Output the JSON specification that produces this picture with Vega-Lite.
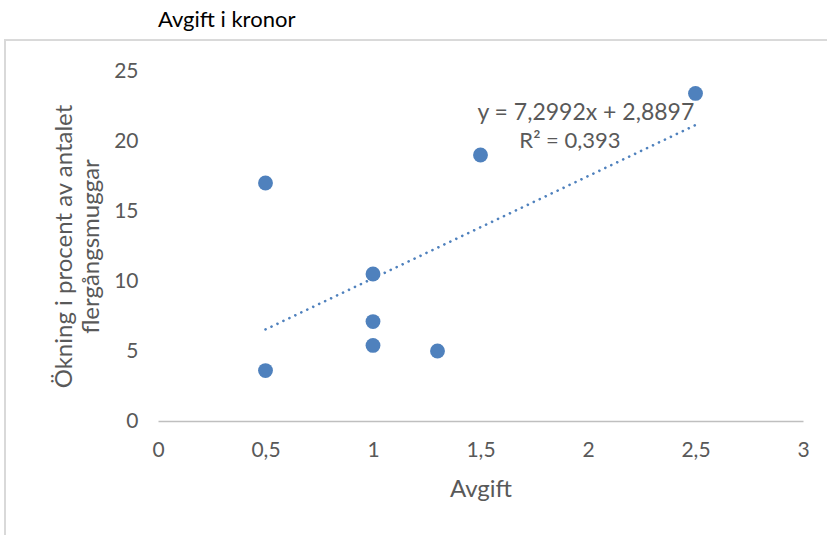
{
  "$schema": "https://vega.github.io/schema/vega-lite/v6.json",
  "width": 645,
  "height": 350,
  "autosize": "none",
  "padding": {"left": 158, "top": 71, "right": 24, "bottom": 114},
  "background": "white",
  "config": {
    "font": "Lato",
    "view": {"stroke": null},
    "axis": {"labelColor": "#595959", "titleColor": "#595959", "labelFont": "Lato", "titleFont": "Lato", "titleFontWeight": "normal", "gridColor": "#d9d9d9", "gridWidth": 1.3, "domainColor": "#bfbfbf", "domainWidth": 1.3, "tickSize": 0}
  },
  "title": {"text": "Avgift i kronor", "anchor": "start", "frame": "group", "offset": 7, "fontSize": 22, "fontWeight": "normal", "color": "#000000", "font": "Lato"},
  "data": {"values": [
    {"Avgift": 0.5, "Okning": 17.0},
    {"Avgift": 0.5, "Okning": 3.6},
    {"Avgift": 1.0, "Okning": 10.5},
    {"Avgift": 1.0, "Okning": 7.1},
    {"Avgift": 1.0, "Okning": 5.4},
    {"Avgift": 1.3, "Okning": 5.0},
    {"Avgift": 1.5, "Okning": 19.0},
    {"Avgift": 2.5, "Okning": 23.4}
  ]},
  "layer": [
    {
      "mark": {"type": "rect", "fill": null, "stroke": "#d9d9d9", "strokeWidth": 1.3, "clip": false},
      "encoding": {
        "x": {"datum": -0.712, "type": "quantitative", "scale": {"domain": [0, 3], "nice": false}},
        "x2": {"datum": 3.3},
        "y": {"datum": 27.21, "type": "quantitative", "scale": {"domain": [0, 25], "nice": false}},
        "y2": {"datum": -10}
      }
    },
    {
      "mark": {"type": "point", "filled": true, "size": 220, "color": "#4f81bd", "opacity": 1},
      "encoding": {
        "x": {"field": "Avgift", "type": "quantitative", "scale": {"domain": [0, 3], "nice": false},
          "axis": {"title": "Avgift", "values": [0, 0.5, 1, 1.5, 2, 2.5, 3], "labelExpr": "replace(format(datum.value, '~g'), '.', ',')", "labelFontSize": 21, "labelPadding": 18, "titleFontSize": 24, "titlePadding": 17, "labelFlush": false}},
        "y": {"field": "Okning", "type": "quantitative", "scale": {"domain": [0, 25], "nice": false},
          "axis": {"title": ["Ökning i procent av antalet", "flergångsmuggar"], "values": [0, 5, 10, 15, 20, 25], "labelFontSize": 21, "labelPadding": 20, "titleFontSize": 24, "titlePadding": 10, "domain": false, "titleLineHeight": 27}}
      }
    },
    {
      "transform": [{"regression": "Okning", "on": "Avgift", "extent": [0.5, 2.5]}],
      "mark": {"type": "line", "color": "#4f81bd", "strokeWidth": 2.6, "strokeDash": [0.1, 6.5], "strokeCap": "round"},
      "encoding": {
        "x": {"field": "Avgift", "type": "quantitative"},
        "y": {"field": "Okning", "type": "quantitative"}
      }
    },
    {
      "data": {"values": [{"label": "y = 7,2992x + 2,8897"}]},
      "mark": {"type": "text", "fontSize": 23, "color": "#595959", "align": "center", "baseline": "middle"},
      "encoding": {
        "x": {"datum": 1.99, "type": "quantitative"},
        "y": {"datum": 22.0, "type": "quantitative"},
        "text": {"field": "label"}
      }
    },
    {
      "data": {"values": [{"label": "R² = 0,393"}]},
      "mark": {"type": "text", "fontSize": 22, "color": "#595959", "align": "center", "baseline": "middle"},
      "encoding": {
        "x": {"datum": 1.916, "type": "quantitative"},
        "y": {"datum": 20.0, "type": "quantitative"},
        "text": {"field": "label"}
      }
    }
  ]
}
